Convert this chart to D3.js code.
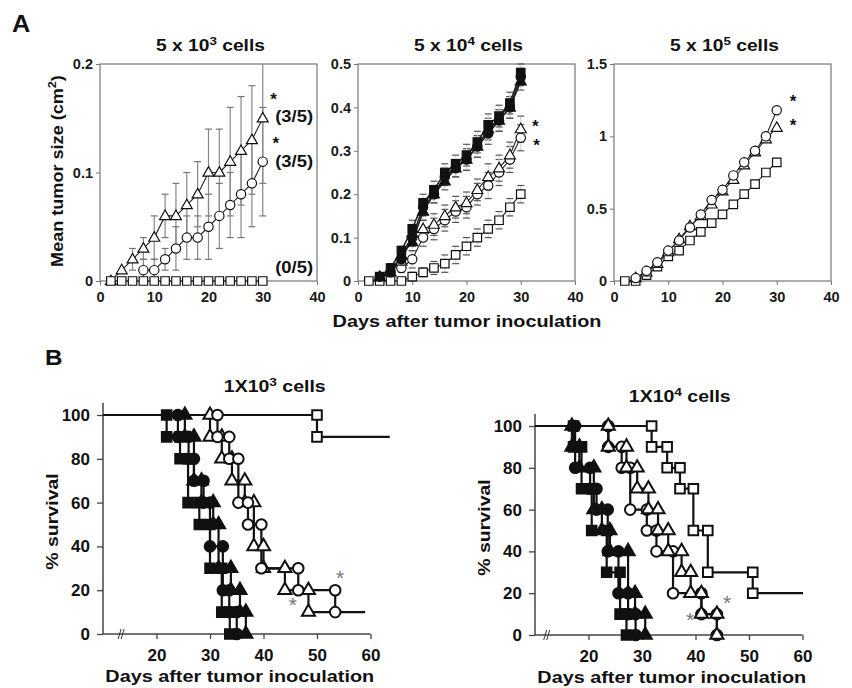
<!DOCTYPE html>
<html>
<head>
<meta charset="utf-8">
<script src="https://cdn.jsdelivr.net/npm/d3@7"></script>
<style>
  body { margin: 0; background: #fff; }
  #chart svg { display: block; font-family: "Liberation Sans", Arial, Helvetica, sans-serif; font-weight: bold; }
</style>
</head>
<body>
<div id="chart"></div>
<script>
// --- Panel A: mean tumour size, measured every 2 days ---
const daysA = [2, 4, 6, 8, 10, 12, 14, 16, 18, 20, 22, 24, 26, 28, 30];
const xTicksA = [0, 10, 20, 30, 40];

// 5 x 10^3 cells
const a1Tri    = [0, 0.01, 0.02, 0.03, 0.04, 0.06, 0.06, 0.07, 0.08, 0.10, 0.10, 0.11, 0.12, 0.13, 0.15];
const a1TriSd  = [0, 0, 0.01, 0.01, 0.02, 0.02, 0.03, 0.03, 0.03, 0.04, 0.04, 0.05, 0.05, 0.05, 0.06];
const a1Circ   = [null, null, null, 0.01, 0.01, 0.02, 0.03, 0.04, 0.04, 0.05, 0.06, 0.07, 0.08, 0.09, 0.11];
const a1CircSd = [null, null, null, 0.01, 0.01, 0.01, 0.02, 0.02, 0.02, 0.03, 0.03, 0.03, 0.04, 0.04, 0.05];
const a1Sq     = [0, 0, 0, 0, 0, 0, 0, 0, 0, 0, 0, 0, 0, 0, 0];
const a1Ticks  = [0, 0.1, 0.2];
const a1Notes  = [[32.3, 0.147, '(3/5)'], [32.3, 0.105, '(3/5)'], [32.3, 0.007, '(0/5)']];
const a1Stars  = [[32.0, 0.162], [32.4, 0.122]];

// 5 x 10^4 cells
const a2OpenSq   = [0, 0, 0, 0, 0.01, 0.02, 0.03, 0.04, 0.06, 0.08, 0.10, 0.12, 0.14, 0.17, 0.20];
const a2OpenSqSd = [0, 0, 0, 0, 0.01, 0.01, 0.015, 0.02, 0.02, 0.02, 0.02, 0.02, 0.02, 0.02, 0.02];
const a2OpenCirc = [null, null, null, 0.03, 0.05, 0.10, 0.12, 0.14, 0.16, 0.17, 0.20, 0.22, 0.25, 0.28, 0.33];
const a2OpenTri  = [null, null, null, 0.045, 0.11, 0.12, 0.13, 0.15, 0.17, 0.18, 0.21, 0.24, 0.26, 0.29, 0.35];
const a2OpenSd   = [null, null, null, 0.01, 0.02, 0.02, 0.025, 0.025, 0.025, 0.025, 0.025, 0.03, 0.03, 0.03, 0.03];
const a2FillSq   = [null, 0.01, 0.03, 0.07, 0.12, 0.18, 0.21, 0.25, 0.27, 0.29, 0.32, 0.36, 0.38, 0.41, 0.48];
const a2FillCirc = [null, 0.01, 0.02, 0.05, 0.10, 0.17, 0.20, 0.24, 0.26, 0.28, 0.31, 0.34, 0.37, 0.40, 0.47];
const a2FillTri  = [null, 0.01, 0.02, 0.06, 0.09, 0.16, 0.20, 0.23, 0.26, 0.28, 0.31, 0.35, 0.37, 0.40, 0.46];
const a2FillSd   = [null, 0, 0.01, 0.01, 0.02, 0.02, 0.02, 0.02, 0.02, 0.025, 0.025, 0.025, 0.025, 0.025, 0.02];
const a2Ticks    = [0, 0.1, 0.2, 0.3, 0.4, 0.5];
const a2Stars    = [[32.7, 0.344], [32.9, 0.30]];

// 5 x 10^5 cells
const a3Circ  = [null, 0.02, 0.07, 0.13, 0.21, 0.28, 0.37, 0.46, 0.56, 0.63, 0.73, 0.82, 0.90, 1.00, 1.18];
const a3Tri   = [null, 0.02, 0.06, 0.12, 0.20, 0.29, 0.38, 0.45, 0.53, 0.62, 0.70, 0.80, 0.89, 0.98, 1.06];
const a3Sq    = [0, 0, 0.04, 0.10, 0.17, 0.21, 0.28, 0.34, 0.40, 0.46, 0.53, 0.60, 0.67, 0.75, 0.82];
const a3Ticks = [0, 0.5, 1, 1.5];
const a3Stars = [[33.0, 1.205], [33.0, 1.04]];

// --- Panel B: Kaplan-Meier survival, [day, % alive after that day] ---
const xTicksB = [20, 30, 40, 50, 60];
const yTicksB = [0, 20, 40, 60, 80, 100];

// 1 x 10^3 cells
const b1OpenSq   = [[10, 100], [50, 90], [63.6, 90]];
const b1OpenCirc = [[10, 100], [31.4, 90], [33.6, 80], [35.3, 60], [37.1, 50], [39.6, 30], [46.5, 20], [53.4, 10], [59, 10]];
const b1OpenTri  = [[10, 100], [30.0, 90], [32.2, 80], [34.1, 70], [36.5, 60], [38.2, 40], [40.0, 30], [44.0, 20], [48.4, 10], [53.4, 10]];
const b1FillSq   = [[10, 100], [21.9, 90], [24.4, 80], [25.9, 60], [28.0, 50], [30.0, 30], [32.2, 10], [33.7, 0]];
const b1FillCirc = [[10, 100], [24.0, 90], [26.0, 80], [27.0, 70], [28.8, 60], [30.0, 40], [32.4, 20], [33.6, 10], [35.0, 0]];
const b1FillTri  = [[10, 100], [25.3, 90], [27.0, 70], [28.4, 60], [30.6, 50], [31.6, 30], [33.9, 20], [35.6, 10], [36.7, 0]];
const b1Stars    = [[45.5, 10], [54.3, 22.4]];

// 1 x 10^4 cells
const b2OpenSq   = [[10, 100], [31.8, 90], [34.7, 80], [37.1, 70], [39.6, 50], [42.3, 30], [50.7, 20], [60.1, 20]];
const b2OpenCirc = [[10, 100], [23.7, 90], [26.2, 80], [27.8, 60], [30.9, 50], [32.7, 40], [35.8, 20], [41.1, 10], [44.0, 0]];
const b2OpenTri  = [[10, 100], [23.7, 90], [27.1, 80], [29.1, 70], [31.2, 60], [33.0, 50], [34.9, 40], [37.4, 30], [39.1, 20], [41.1, 10], [44.0, 0]];
const b2FillSq   = [[10, 100], [17.2, 90], [18.7, 70], [20.6, 50], [23.4, 30], [25.9, 10], [27.1, 0]];
const b2FillCirc = [[10, 100], [17.5, 80], [20.3, 70], [21.5, 60], [23.6, 40], [25.6, 20], [27.4, 10], [28.8, 0]];
const b2FillTri  = [[10, 100], [16.9, 90], [18.3, 80], [21.0, 60], [22.5, 50], [24.0, 40], [27.4, 20], [28.7, 10], [30.6, 0]];
const b2Stars    = [[39.0, 3.8], [45.9, 12]];

// --- Setup ---
const svg = d3.select('#chart').append('svg')
  .attr('width', 852)
  .attr('height', 688);

const shapes = { circle: d3.symbolCircle, square: d3.symbolSquare, triangle: d3.symbolTriangle };
const sizeA = { circle: 68, square: 72, triangle: 52 };
const sizeB = { circle: 88, square: 92, triangle: 74 };

// text helper: parts are strings or {sup: '3'}
function label(x, y, parts, opt = {}) {
  const t = svg.append('text')
    .attr('transform', `translate(${x},${y}) rotate(${opt.rotate || 0}) scale(${opt.sx || 1},1)`)
    .attr('text-anchor', opt.anchor || 'middle')
    .attr('font-size', opt.size || 16)
    .attr('font-weight', opt.weight || 'bold')
    .attr('fill', opt.fill || '#111');
  parts.forEach(p => {
    if (typeof p === 'string') t.append('tspan').text(p);
    else t.append('tspan').attr('baseline-shift', 'super').attr('font-size', (opt.size || 16) * 0.7).text(p.sup);
  });
  return t;
}

// --- Growth curves (panel A) ---
function drawGrowth(p) {
  const x = d3.scaleLinear().domain([0, 40]).range([p.left, p.left + 217]);
  const ymax = p.ticks[p.ticks.length - 1];
  const y = d3.scaleLinear().domain([0, ymax]).range([281, 64]);
  const g = svg.append('g');

  const xa = g.append('g')
    .attr('transform', `translate(0,${y(0)})`)
    .call(d3.axisBottom(x).tickValues(xTicksA).tickSize(4).tickPadding(7).tickFormat(d3.format('d')));
  const ya = g.append('g')
    .attr('transform', `translate(${p.left},0)`)
    .call(d3.axisLeft(y).tickValues(p.ticks).tickSize(4).tickPadding(3).tickFormat(d => String(d)));
  [xa, ya].forEach(a => {
    a.attr('font-family', null).attr('font-size', 14.5);
    a.select('.domain').remove();
    a.selectAll('.tick line').attr('stroke', '#777');
    a.selectAll('.tick text').attr('fill', '#1a1a1a');
  });

  // frame
  g.append('rect')
    .attr('x', x(0)).attr('y', y(ymax))
    .attr('width', x(40) - x(0)).attr('height', y(0) - y(ymax))
    .attr('fill', 'none').attr('stroke', '#777').attr('stroke-width', 1.2);

  const ebLayer = g.append('g').attr('stroke-width', 1.2);
  const lineLayer = g.append('g');
  const markLayer = g.append('g');

  p.series.forEach(s => {
    const pts = daysA.map((d, i) => ({ day: d, v: s.vals[i], sd: s.sd ? s.sd[i] : 0 }))
      .filter(d => d.v != null);

    // error bars (clipped at the top of the frame)
    const eb = pts.filter(d => d.sd > 0).map(d => ({
      day: d.day, lo: Math.max(0, d.v - d.sd), hi: Math.min(ymax, d.v + d.sd), clipped: d.v + d.sd > ymax
    }));
    ebLayer.selectAll(null).data(eb).join('line')
      .attr('stroke', p.stemColor)
      .attr('x1', d => x(d.day)).attr('x2', d => x(d.day))
      .attr('y1', d => y(d.lo)).attr('y2', d => y(d.hi));
    ebLayer.selectAll(null).data(eb.flatMap(d => d.clipped ? [[d.day, d.lo]] : [[d.day, d.lo], [d.day, d.hi]])).join('line')
      .attr('stroke', p.capColor)
      .attr('x1', d => x(d[0]) - 3.5).attr('x2', d => x(d[0]) + 3.5)
      .attr('y1', d => y(d[1])).attr('y2', d => y(d[1]));

    lineLayer.append('path')
      .datum(pts)
      .attr('fill', 'none')
      .attr('stroke', '#222')
      .attr('stroke-width', s.fill ? 1.6 : 1.1)
      .attr('d', d3.line().x(d => x(d.day)).y(d => y(d.v)));

    markLayer.selectAll(null).data(pts).join('path')
      .attr('d', d3.symbol(shapes[s.shape], sizeA[s.shape]))
      .attr('transform', d => `translate(${x(d.day)},${y(d.v) + (s.shape === 'triangle' ? 0.5 : 0)})`)
      .attr('fill', s.fill ? '#111' : '#fff')
      .attr('stroke', '#111')
      .attr('stroke-width', 1.2);
  });

  (p.notes || []).forEach(n => label(x(n[0]), y(n[1]), [n[2]], { anchor: 'start', size: 16, sx: 1.15 }));
  p.stars.forEach(s => label(x(s[0]), y(s[1]), ['*'], { size: 17 }));

  label((x(0) + x(40)) / 2 + 2, 51, ['5 x 10', { sup: p.exp }, ' cells'], { size: 16, sx: 1.2 });
}

drawGrowth({
  left: 100, ticks: a1Ticks, exp: '3', notes: a1Notes, stars: a1Stars, stemColor: '#888', capColor: '#777',
  series: [
    { vals: a1Tri, sd: a1TriSd, shape: 'triangle' },
    { vals: a1Circ, sd: a1CircSd, shape: 'circle' },
    { vals: a1Sq, shape: 'square' }
  ]
});
drawGrowth({
  left: 358, ticks: a2Ticks, exp: '4', stars: a2Stars, stemColor: '#d4d4d4', capColor: '#555',
  series: [
    { vals: a2OpenSq, sd: a2OpenSqSd, shape: 'square' },
    { vals: a2OpenCirc, sd: a2OpenSd, shape: 'circle' },
    { vals: a2OpenTri, sd: a2OpenSd, shape: 'triangle' },
    { vals: a2FillTri, sd: a2FillSd, shape: 'triangle', fill: true },
    { vals: a2FillCirc, sd: a2FillSd, shape: 'circle', fill: true },
    { vals: a2FillSq, sd: a2FillSd, shape: 'square', fill: true }
  ]
});
drawGrowth({
  left: 614, ticks: a3Ticks, exp: '5', stars: a3Stars,
  series: [
    { vals: a3Sq, shape: 'square' },
    { vals: a3Tri, shape: 'triangle' },
    { vals: a3Circ, shape: 'circle' }
  ]
});

label(12, 32, ['A'], { anchor: 'start', size: 23, sx: 1.1 });
label(63, 171, ['Mean tumor size (cm', { sup: '2' }, ')'], { rotate: -90, size: 16, sx: 1.13 });
label(467, 327, ['Days after tumor inoculation'], { size: 16, sx: 1.24 });

// --- Survival curves (panel B) ---
function drawSurvival(p) {
  const x = d3.scaleLinear().domain([10, 60]).range([p.left, p.left + 267.5]);
  const y = d3.scaleLinear().domain([0, 100]).range([p.bottom, p.top]);
  const g = svg.append('g');

  const xa = g.append('g')
    .attr('transform', `translate(0,${p.bottom})`)
    .call(d3.axisBottom(x).tickValues(xTicksB).tickSize(5).tickPadding(10));
  const ya = g.append('g')
    .attr('transform', `translate(${p.left},0)`)
    .call(d3.axisLeft(y).tickValues(yTicksB).tickSize(6).tickPadding(7));
  [xa, ya].forEach(a => {
    a.attr('font-family', null).attr('font-size', 17);
    a.select('.domain').remove();
    a.selectAll('.tick line').attr('stroke', '#444').attr('stroke-width', 1.3);
    a.selectAll('.tick text').attr('fill', '#111');
  });

  g.append('line')
    .attr('x1', x(10)).attr('x2', x(60)).attr('y1', p.bottom).attr('y2', p.bottom)
    .attr('stroke', '#444').attr('stroke-width', 1.5);
  g.append('line')
    .attr('x1', p.left).attr('x2', p.left).attr('y1', p.bottom).attr('y2', y(100) - 12)
    .attr('stroke', '#444').attr('stroke-width', 1.5);

  // axis break mark
  const bx = x(p.breakDay);
  [0, 3].forEach(off => g.append('line')
    .attr('x1', bx + off - 2).attr('x2', bx + off + 1)
    .attr('y1', p.bottom + 5).attr('y2', p.bottom - 5)
    .attr('stroke', '#333').attr('stroke-width', 1));

  const lineLayer = g.append('g');
  const markLayer = g.append('g');
  p.series.forEach(s => {
    const pts = s.data.map(([t, v]) => ({ t, v }));
    lineLayer.append('path')
      .datum(pts)
      .attr('fill', 'none')
      .attr('stroke', '#111')
      .attr('stroke-width', 2.2)
      .attr('d', d3.line().curve(d3.curveStepAfter).x(d => x(d.t)).y(d => y(d.v)));

    // a marker at both corners of every drop
    const corners = [];
    pts.forEach((d, i) => {
      if (i > 0 && d.v !== pts[i - 1].v) corners.push({ t: d.t, v: pts[i - 1].v }, { t: d.t, v: d.v });
    });
    markLayer.selectAll(null).data(corners).join('path')
      .attr('d', d3.symbol(shapes[s.shape], sizeB[s.shape]))
      .attr('transform', d => `translate(${x(d.t)},${y(d.v)})`)
      .attr('fill', s.fill ? '#111' : '#fff')
      .attr('stroke', '#111')
      .attr('stroke-width', 2);
  });

  p.stars.forEach(s => label(x(s[0]), y(s[1]), ['*'], { size: 21, weight: 'normal', fill: '#777' }));

  label((x(10) + x(60)) / 2 + p.titleDx, p.titleY, ['1X10', { sup: p.exp }, ' cells'], { size: 16, sx: 1.22 });
  label(p.left - 45, (p.bottom + p.top) / 2 - 3, ['% survival'], { rotate: -90, size: 16, sx: 1.22 });
  label((x(10) + x(60)) / 2 + 3, p.bottom + 48, ['Days after tumor inoculation'], { size: 16, sx: 1.24 });
}

drawSurvival({
  left: 103, bottom: 634, top: 415, breakDay: 13.2, exp: '3', titleY: 392, titleDx: 38, stars: b1Stars,
  series: [
    { data: b1FillSq, shape: 'square', fill: true },
    { data: b1FillCirc, shape: 'circle', fill: true },
    { data: b1FillTri, shape: 'triangle', fill: true },
    { data: b1OpenSq, shape: 'square' },
    { data: b1OpenTri, shape: 'triangle' },
    { data: b1OpenCirc, shape: 'circle' }
  ]
});
drawSurvival({
  left: 535, bottom: 635, top: 426, breakDay: 12.0, exp: '4', titleY: 402, titleDx: 11, stars: b2Stars,
  series: [
    { data: b2FillSq, shape: 'square', fill: true },
    { data: b2FillCirc, shape: 'circle', fill: true },
    { data: b2FillTri, shape: 'triangle', fill: true },
    { data: b2OpenSq, shape: 'square' },
    { data: b2OpenCirc, shape: 'circle' },
    { data: b2OpenTri, shape: 'triangle' }
  ]
});

label(45, 365, ['B'], { anchor: 'start', size: 22, sx: 1.1 });
</script>
</body>
</html>
